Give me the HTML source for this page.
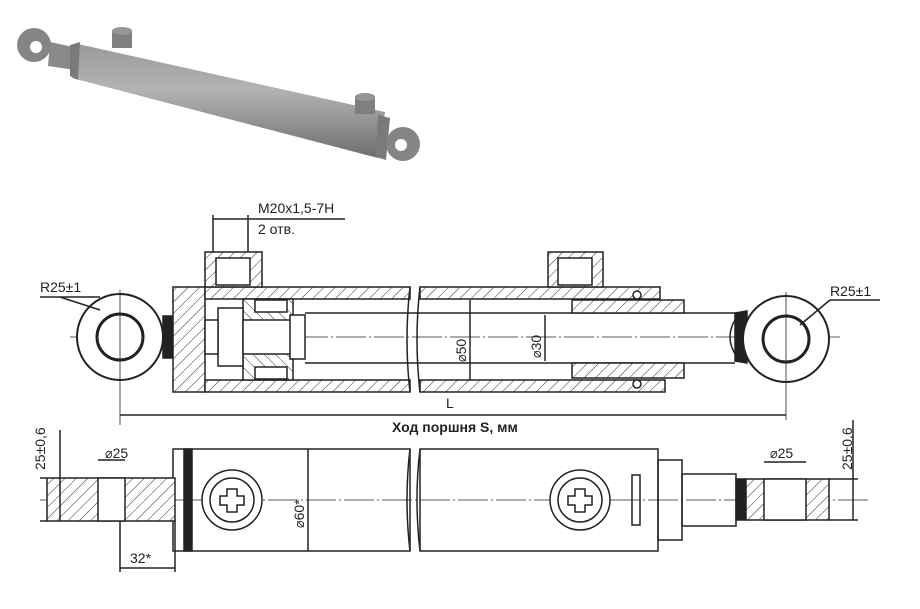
<!DOCTYPE html>
<html><head><meta charset="utf-8"><style>
body{margin:0;background:#fff}
svg{display:block}
text{font-family:"Liberation Sans Narrow","Liberation Sans","DejaVu Sans Condensed",sans-serif;fill:#222}
</style></head><body>
<svg width="920" height="609" viewBox="0 0 920 609" xmlns="http://www.w3.org/2000/svg">
<defs>
<pattern id="h" width="8" height="8" patternUnits="userSpaceOnUse" patternTransform="rotate(45)">
<rect width="8" height="8" fill="#fff"/><line x1="0" y1="0" x2="0" y2="8" stroke="#333" stroke-width="1"/></pattern>
<pattern id="h2" width="8" height="8" patternUnits="userSpaceOnUse" patternTransform="rotate(-45)">
<rect width="8" height="8" fill="#fff"/><line x1="0" y1="0" x2="0" y2="8" stroke="#333" stroke-width="1"/></pattern>
<linearGradient id="g" x1="0" y1="0" x2="0" y2="1"><stop offset="0" stop-color="#9a9a9c"/><stop offset="0.4" stop-color="#b3b3b5"/><stop offset="1" stop-color="#6e6e70"/></linearGradient>
</defs>

<g>
<polygon points="50,42 78,48 75,70 48,66" fill="#8a8a8c"/>
<circle cx="34" cy="45" r="17" fill="#858587"/>
<circle cx="36" cy="47" r="6" fill="#fff"/>
<polygon points="78,44 385,112 378,158 72,78" fill="url(#g)"/>
<polygon points="70,45 80,42 78,80 70,76" fill="#7a7a7c"/>
<polygon points="378,115 390,118 386,160 376,157" fill="#7a7a7c"/>
<rect x="112" y="30" width="20" height="18" fill="#7f7f81"/>
<ellipse cx="122" cy="31" rx="10" ry="4" fill="#959597"/>
<rect x="355" y="96" width="20" height="18" fill="#7f7f81"/>
<ellipse cx="365" cy="97" rx="10" ry="4" fill="#959597"/>
<circle cx="403" cy="144" r="17" fill="#858587"/>
<circle cx="401" cy="145" r="6" fill="#fff"/>
</g>

<g stroke="#222" fill="none" stroke-width="1.5">
<line x1="70" y1="337" x2="840" y2="337" stroke-dasharray="30,3,2,3" stroke-width="0.8"/>
<circle cx="120" cy="337" r="43" fill="#fff" stroke-width="2"/>
<circle cx="120" cy="337" r="23" stroke-width="3"/>
<rect x="163" y="316" width="12" height="42" fill="#222"/>
<line x1="120" y1="290" x2="120" y2="425" stroke-width="0.8"/>
<line x1="100" y1="310" x2="60" y2="297" />
<line x1="40" y1="297" x2="100" y2="297"/>
<rect x="173" y="287" width="32" height="105" fill="url(#h)"/>
<rect x="205" y="287" width="205" height="12" fill="url(#h)"/>
<rect x="205" y="380" width="205" height="12" fill="url(#h)"/>
<rect x="420" y="287" width="240" height="12" fill="url(#h)"/>
<rect x="420" y="380" width="245" height="12" fill="url(#h)"/>
<path d="M410 287 q-6 52 0 105" /><path d="M420 287 q-6 52 0 105"/>
<rect x="243" y="299" width="50" height="81" fill="url(#h2)"/>
<rect x="255" y="300" width="32" height="12" fill="#fff"/>
<rect x="255" y="367" width="32" height="12" fill="#fff"/>
<rect x="218" y="308" width="25" height="58" fill="#fff"/>
<rect x="205" y="320" width="13" height="34" fill="#fff"/>
<rect x="243" y="320" width="50" height="34" fill="#fff"/>
<rect x="290" y="315" width="15" height="44" fill="#fff"/>
<line x1="305" y1="313" x2="735" y2="313"/>
<line x1="305" y1="363" x2="735" y2="363"/>
<rect x="572" y="300" width="112" height="13" fill="url(#h)"/>
<rect x="572" y="363" width="112" height="15" fill="url(#h)"/>
<circle cx="637" cy="295" r="4" fill="#fff"/>
<circle cx="637" cy="384" r="4" fill="#fff"/>
<path d="M735 313 l12 -2 v52 l-12 -2 z" fill="#222"/>
<path d="M735 320 q-10 17 0 34"/>
<circle cx="786" cy="339" r="43" fill="#fff" stroke-width="2"/>
<circle cx="786" cy="339" r="23" stroke-width="3"/>
<line x1="786" y1="292" x2="786" y2="420" stroke-width="0.8"/>
<line x1="800" y1="325" x2="830" y2="300"/>
<line x1="830" y1="300" x2="880" y2="300"/>
<rect x="205" y="252" width="57" height="35" fill="url(#h)"/>
<rect x="216" y="258" width="34" height="27" fill="#fff"/>
<rect x="548" y="252" width="55" height="35" fill="url(#h)"/>
<rect x="558" y="258" width="34" height="27" fill="#fff"/>
<line x1="213" y1="215" x2="213" y2="252"/><line x1="248" y1="215" x2="248" y2="252"/>
<line x1="213" y1="219" x2="345" y2="219"/>
<line x1="470" y1="300" x2="470" y2="380"/>
<line x1="545" y1="315" x2="545" y2="361"/>
<line x1="120" y1="415" x2="786" y2="415"/>
</g>
<text x="258" y="213" font-size="14">M20x1,5-7H</text>
<text x="258" y="234" font-size="14">2 отв.</text>
<text x="40" y="292" font-size="14">R25±1</text>
<text x="830" y="296" font-size="14">R25±1</text>
<text x="446" y="408" font-size="14">L</text>
<text x="392" y="432" font-size="14" font-weight="bold">Ход поршня S, мм</text>
<text font-size="14" transform="translate(466,362) rotate(-90)">⌀50</text>
<text font-size="14" transform="translate(541,358) rotate(-90)">⌀30</text>

<g stroke="#222" fill="none" stroke-width="1.5">
<line x1="40" y1="500" x2="870" y2="500" stroke-dasharray="30,3,2,3" stroke-width="0.8"/>
<rect x="173" y="449" width="237" height="102" fill="none"/>
<rect x="420" y="449" width="238" height="102"/>
<rect x="184" y="449" width="8" height="102" fill="#222"/>
<path d="M410 449 q-6 50 0 102 M420 449 q-6 50 0 102"/>
<line x1="308" y1="449" x2="308" y2="551"/>
<rect x="47" y="478" width="128" height="43" fill="url(#h)"/>
<rect x="98" y="478" width="27" height="43" fill="#fff"/>
<circle cx="232" cy="500" r="30" fill="#fff"/><circle cx="232" cy="500" r="22"/>
<path d="M227 489 h10 v7 h7 v9 h-7 v7 h-10 v-7 h-7 v-9 h7z"/>
<circle cx="580" cy="500" r="30" fill="#fff"/><circle cx="580" cy="500" r="22"/>
<path d="M575 489 h10 v7 h7 v9 h-7 v7 h-10 v-7 h-7 v-9 h7z"/>
<rect x="632" y="475" width="8" height="50"/>
<rect x="658" y="460" width="24" height="80"/>
<rect x="682" y="474" width="54" height="52"/>
<rect x="736" y="479" width="10" height="41" fill="#222"/>
<rect x="746" y="479" width="83" height="41" fill="url(#h)"/>
<rect x="764" y="479" width="42" height="41" fill="#fff"/>
<line x1="40" y1="478" x2="47" y2="478"/><line x1="40" y1="521" x2="47" y2="521"/>
<line x1="60" y1="430" x2="60" y2="521"/>
<line x1="829" y1="479" x2="858" y2="479"/><line x1="829" y1="520" x2="858" y2="520"/>
<line x1="853" y1="420" x2="853" y2="520"/>
<line x1="98" y1="460" x2="125" y2="460"/><line x1="764" y1="462" x2="806" y2="462"/>
<line x1="120" y1="521" x2="120" y2="572"/><line x1="175" y1="521" x2="175" y2="572"/>
<line x1="120" y1="568" x2="175" y2="568"/>
</g>
<text x="105" y="458" font-size="14">⌀25</text>
<text x="770" y="458" font-size="14">⌀25</text>
<text x="130" y="563" font-size="14">32*</text>
<text font-size="14" transform="translate(45,470) rotate(-90)">25±0,6</text>
<text font-size="14" transform="translate(852,470) rotate(-90)">25±0,6</text>
<text font-size="14" transform="translate(304,528) rotate(-90)">⌀60*</text>
</svg>
</body></html>
